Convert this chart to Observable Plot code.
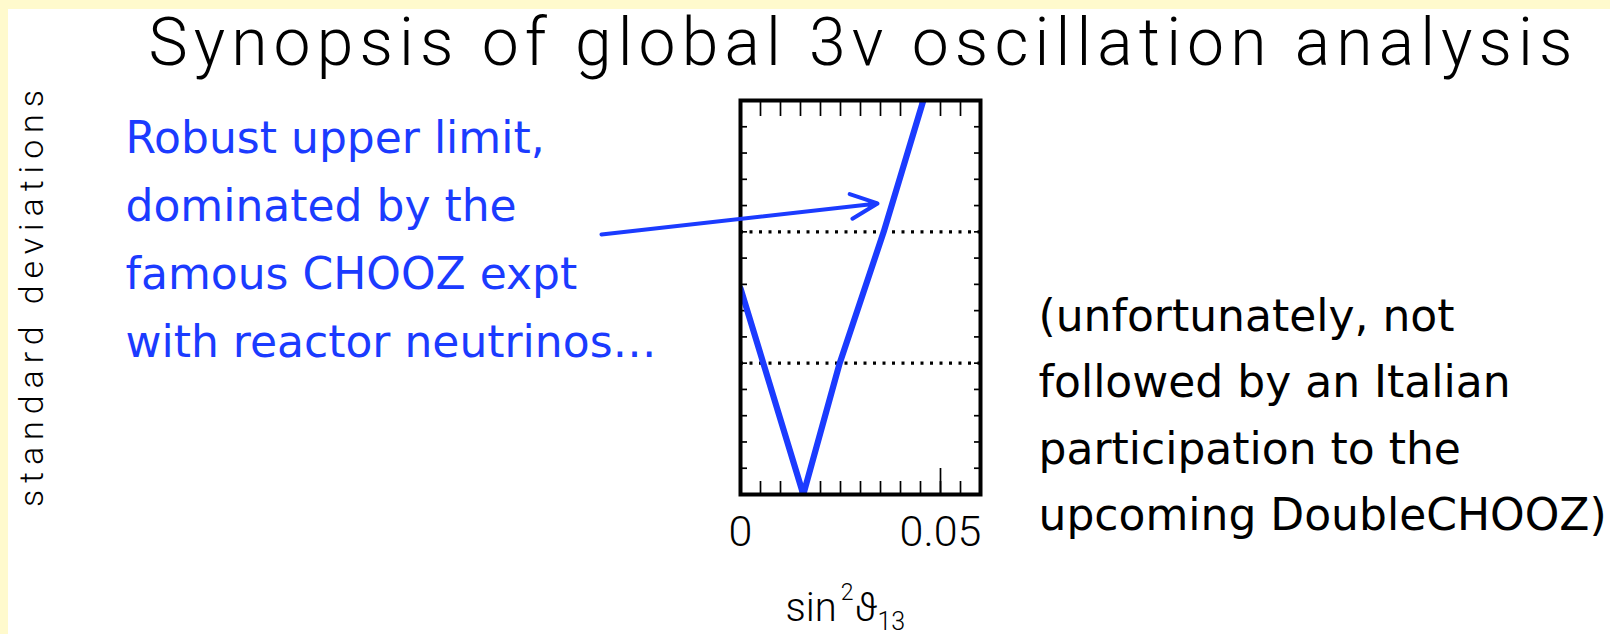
<!DOCTYPE html>
<html>
<head>
<meta charset="utf-8">
<script src="https://cdn.jsdelivr.net/npm/d3@7"></script>
<script src="https://cdn.jsdelivr.net/npm/@observablehq/plot@0.6"></script>
<style>
  html, body { margin: 0; padding: 0; width: 1610px; height: 634px; overflow: hidden; background: #FFFACD; }
  #sheet { position: absolute; left: 8px; top: 9px; width: 1602px; height: 625px; background: #ffffff; }
  #chart { position: absolute; left: 0; top: 0; }
  #chart svg { overflow: visible; background: transparent; }
</style>
</head>
<body>
<div id="sheet"></div>
<div id="chart"></div>
<script>
// ---- data ----
const sin2theta13 = [0, 0.0057, 0.0157, 0.0248, 0.0358, 0.0457];
const nSigma      = [1.57, 1.0, 0, 1.0, 2.0, 3.0];
const xTickValues = [0, 0.05];
const xMinorTicks = [0.005, 0.01, 0.015, 0.02, 0.025, 0.03, 0.035, 0.04, 0.045, 0.05, 0.055];
const xMajorTicks = [0.05];
const yMinorTicks = [0.2, 0.4, 0.6, 0.8, 1.0, 1.2, 1.4, 1.6, 1.8, 2.0, 2.2, 2.4, 2.6, 2.8];
const sigmaLevels = [1, 2];
const titleText = "Synopsis of global 3ν oscillation analysis";
const yLabelText = "standard deviations";
const xLabelParts = [["sin", "base"], ["2", "sup"], ["ϑ", "back"], ["13", "sub"]];
const noteLines = ["Robust upper limit,", "dominated by the", "famous CHOOZ expt", "with reactor neutrinos…"];
const asideLines = ["(unfortunately, not", "followed by an Italian", "participation to the", "upcoming DoubleCHOOZ)"];

// ---- layout (in data units of the plot scales) ----
const layout = {
  title: {x: 0.03, y: 3.267, length: 1424},
  yLabel: {x: -0.1745, y: 1.492, length: 417},
  xLabel: {x: 0.01125, y: -0.96},
  note: {x: -0.15375, y0: 2.604, step: 0.5178},
  aside: {x: 0.0745, y0: 1.2487, step: 0.5076},
  arrow: {x1: -0.03475, y1: 1.98, x2: 0.03425, y2: 2.216}
};
const blue = "#1b3bff";
const thinFont = "Roboto, 'DejaVu Sans', sans-serif";
const handFont = "'Comic Sans MS', 'DejaVu Sans', sans-serif";

const curve = sin2theta13.map((x, i) => ({x, y: nSigma[i]}));
const notes = noteLines.map((t, i) => ({t, x: layout.note.x, y: layout.note.y0 - i * layout.note.step}));
const asides = asideLines.map((t, i) => ({t, x: layout.aside.x, y: layout.aside.y0 - i * layout.aside.step}));
const xLabelText = xLabelParts.map(d => d[0]).join("");

const chart = Plot.plot({
  width: 1610,
  height: 634,
  marginLeft: 740,
  marginRight: 630,
  marginTop: 100,
  marginBottom: 140,
  x: {domain: [0, 0.06], label: null},
  y: {domain: [0, 3], label: null},
  style: {background: "transparent", overflow: "visible"},
  marks: [
    Plot.ruleY(sigmaLevels, {stroke: "black", strokeWidth: 3.2, strokeDasharray: "3,6.5"}),
    Plot.axisX(xMinorTicks, {anchor: "bottom", tickSize: -13, strokeWidth: 1.7, fill: "none", label: null}),
    Plot.axisX(xMajorTicks, {anchor: "bottom", tickSize: -26, strokeWidth: 1.7, fill: "none", label: null}),
    Plot.axisX(xMinorTicks, {anchor: "top", tickSize: -15, strokeWidth: 1.7, fill: "none", label: null}),
    Plot.axisY(yMinorTicks, {anchor: "left", tickSize: -7, strokeWidth: 1.7, fill: "none", label: null}),
    Plot.axisY(yMinorTicks, {anchor: "right", tickSize: -7, strokeWidth: 1.7, fill: "none", label: null}),
    Plot.axisX(xTickValues, {anchor: "bottom", tickSize: 0, tickPadding: 21, fontSize: 43,
      fontFamily: thinFont, fontWeight: 300, fill: "black",
      tickFormat: d => d === 0 ? "0" : d3.format(".2f")(d), label: null}),
    Plot.line(curve, {x: "x", y: "y", stroke: blue, strokeWidth: 6.2,
      strokeLinejoin: "round", strokeLinecap: "round", clip: true}),
    Plot.frame({stroke: "black", strokeWidth: 4}),
    Plot.arrow([layout.arrow], {x1: "x1", y1: "y1", x2: "x2", y2: "y2",
      stroke: blue, strokeWidth: 4, headLength: 11, headAngle: 50}),
    Plot.text([titleText], {x: layout.title.x, y: layout.title.y, text: d => d,
      fontSize: 66, fontFamily: thinFont, fontWeight: 300, fill: "black",
      textAnchor: "middle", lineAnchor: "bottom"}),
    Plot.text([yLabelText], {x: layout.yLabel.x, y: layout.yLabel.y, text: d => d,
      fontSize: 34, fontFamily: thinFont, fontWeight: 300, fill: "black", rotate: -90,
      textAnchor: "middle", lineAnchor: "bottom"}),
    Plot.text([xLabelText], {x: layout.xLabel.x, y: layout.xLabel.y, text: d => d,
      fontSize: 40, fontFamily: thinFont, fontWeight: 300, fill: "black",
      textAnchor: "start", lineAnchor: "bottom"}),
    Plot.text(notes, {x: "x", y: "y", text: "t", fontSize: 44, fontFamily: handFont,
      fill: blue, textAnchor: "start", lineAnchor: "bottom"}),
    Plot.text(asides, {x: "x", y: "y", text: "t", fontSize: 44, fontFamily: handFont,
      fill: "black", textAnchor: "start", lineAnchor: "bottom"})
  ]
});

document.getElementById("chart").appendChild(chart);

// stretch title / y label to the reference's letter spacing; typeset sin²ϑ₁₃
d3.select(chart).selectAll("text").each(function() {
  const t = this.textContent;
  if (t === titleText) d3.select(this).attr("textLength", layout.title.length).attr("lengthAdjust", "spacing");
  if (t === yLabelText) d3.select(this).attr("textLength", layout.yLabel.length).attr("lengthAdjust", "spacing");
  if (t === xLabelText) {
    const el = d3.select(this);
    el.text(null);
    xLabelParts.forEach(([s, kind]) => {
      const ts = el.append("tspan").text(s);
      if (kind === "sup") ts.attr("font-size", 23).attr("dy", -21).attr("dx", 4);
      else if (kind === "back") ts.attr("dy", 21).attr("dx", 1);
      else if (kind === "sub") ts.attr("font-size", 25).attr("dy", 9).attr("dx", 0);
    });
  }
});
</script>
</body>
</html>
